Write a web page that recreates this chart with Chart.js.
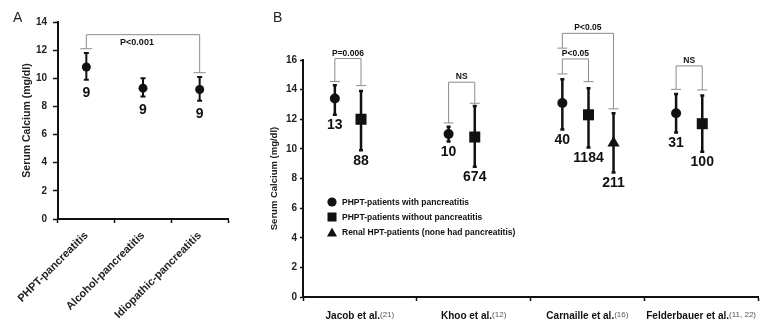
<!DOCTYPE html>
<html>
<head>
<meta charset="utf-8">
<script src="https://cdn.jsdelivr.net/npm/chart.js@4.4.0/dist/chart.umd.min.js"></script>
<style>
html,body{margin:0;padding:0;background:#fff;}
#wrap{position:relative;width:775px;height:327px;overflow:hidden;font-family:"Liberation Sans",Arial,sans-serif;}
#cA{position:absolute;left:0;top:0;}
#cB{position:absolute;left:250px;top:0;}
.panel{position:absolute;font-size:14px;line-height:1;color:#222;}
#legB{position:absolute;left:327px;top:194px;font:bold 8.5px "Liberation Sans",Arial,sans-serif;color:#111;}
#legB .row{display:flex;align-items:center;height:15px;white-space:nowrap;}
#legB svg{width:10px;height:10px;margin-right:5px;flex:none;}
</style>
</head>
<body>
<div id="wrap">
  <canvas id="cA" width="250" height="327" style="width:250px;height:327px"></canvas>
  <canvas id="cB" width="525" height="327" style="width:525px;height:327px"></canvas>
  <div class="panel" style="left:13px;top:10px;">A</div>
  <div class="panel" style="left:273px;top:10px;">B</div>
  <div id="legB"></div>
</div>
<script>
// ---------- Panel A data ----------
const catsA = ['PHPT-pancreatitis', 'Alcohol-pancreatitis', 'Idiopathic-pancreatitis'];
const meanA = [10.8, 9.3, 9.2];
const lowA  = [9.9, 8.7, 8.4];
const highA = [11.8, 10.0, 10.1];
const nA    = [9, 9, 9];
const yTicksA = [0, 2, 4, 6, 8, 10, 12, 14];
// significance bracket A (from category, to category, top, cap heights)
const brA = {from: 0, to: 2, top: 13.1, capFrom: 12.1, capTo: 10.4, label: 'P<0.001'};

// ---------- Panel B data ----------
const studiesB = ['Jacob et al.', 'Khoo et al.', 'Carnaille et al.', 'Felderbauer et al.'];
const refsB    = ['(21)', '(12)', '(16)', '(11, 22)'];
const seriesB  = ['PHPT-patients with pancreatitis', 'PHPT-patients without pancreatitis', 'Renal HPT-patients (none had pancreatitis)'];
const withMean = [13.4, 11.0, 13.1, 12.4];
const withLow  = [12.3, 10.5, 11.3, 11.1];
const withHigh = [14.3, 11.5, 14.7, 13.7];
const withN    = [13, 10, 40, 31];
const withoutMean = [12.0, 10.8, 12.3, 11.7];
const withoutLow  = [9.9, 8.8, 10.1, 9.8];
const withoutHigh = [13.9, 12.9, 14.1, 13.6];
const withoutN    = [88, 674, 1184, 100];
const renalMean = [null, null, 10.4, null];
const renalLow  = [null, null, 8.4, null];
const renalHigh = [null, null, 12.4, null];
const renalN    = [null, null, 211, null];
const yTicksB = [0, 2, 4, 6, 8, 10, 12, 14, 16];
// significance brackets B
const brStudy   = [0, 1, 2, 2, 3];
const brFromSer = [0, 0, 0, 0, 0];
const brToSer   = [1, 1, 1, 2, 1];
const brTop     = [16.1, 14.5, 16.07, 17.8, 15.6];
const brCapFrom = [14.55, 11.75, 15.06, 16.8, 14.02];
const brCapTo   = [14.27, 13.08, 14.54, 12.7, 13.98];
const brLabel   = ['P=0.006', 'NS', 'P<0.05', 'P<0.05', 'NS'];

const FONT = '"Liberation Sans", Arial, Helvetica, sans-serif';
const INK = '#111';

// ---------- plugins ----------
const errorBars = {
  id: 'errorBars',
  beforeDatasetsDraw(chart, args, opts) {
    const ctx = chart.ctx, ys = chart.scales.y;
    ctx.save();
    ctx.strokeStyle = INK;
    ctx.lineWidth = opts.lineWidth;
    chart.data.datasets.forEach((ds, di) => {
      const meta = chart.getDatasetMeta(di);
      meta.data.forEach((el, j) => {
        const d = ds.data[j];
        if (!d || d.lo == null) return;
        const y1 = ys.getPixelForValue(d.lo), y2 = ys.getPixelForValue(d.hi);
        const c = opts.capWidth / 2;
        ctx.beginPath();
        ctx.moveTo(el.x, y1); ctx.lineTo(el.x, y2);
        ctx.moveTo(el.x - c, y1); ctx.lineTo(el.x + c, y1);
        ctx.moveTo(el.x - c, y2); ctx.lineTo(el.x + c, y2);
        ctx.stroke();
      });
    });
    ctx.restore();
  },
  afterDatasetsDraw(chart, args, opts) {
    const ctx = chart.ctx, ys = chart.scales.y;
    ctx.save();
    ctx.fillStyle = INK;
    ctx.font = 'bold ' + opts.nSize + 'px ' + FONT;
    ctx.textAlign = 'center';
    ctx.textBaseline = 'middle';
    chart.data.datasets.forEach((ds, di) => {
      const meta = chart.getDatasetMeta(di);
      meta.data.forEach((el, j) => {
        const d = ds.data[j];
        if (!d || d.n == null) return;
        ctx.fillText(String(d.n), el.x, ys.getPixelForValue(d.lo) + opts.nOffset);
      });
    });
    ctx.restore();
  }
};

function bracketPlugin(list, style) {
  return {
    id: 'brackets',
    afterDraw(chart) {
      const ctx = chart.ctx, ys = chart.scales.y;
      ctx.save();
      list.forEach(b => {
        const xL = chart.getDatasetMeta(b.ds0).data[b.i0].x;
        const xR = chart.getDatasetMeta(b.ds1).data[b.i1].x;
        const yT = ys.getPixelForValue(b.top);
        const yL = ys.getPixelForValue(b.c0);
        const yR = ys.getPixelForValue(b.c1);
        const c = style.capWidth / 2;
        ctx.strokeStyle = '#8c8c8c';
        ctx.lineWidth = 1;
        ctx.beginPath();
        ctx.moveTo(xL, yL); ctx.lineTo(xL, yT); ctx.lineTo(xR, yT); ctx.lineTo(xR, yR);
        ctx.moveTo(xL - c, yL); ctx.lineTo(xL + c, yL);
        ctx.moveTo(xR - c, yR); ctx.lineTo(xR + c, yR);
        ctx.stroke();
        ctx.fillStyle = INK;
        ctx.font = 'bold ' + style.fontSize + 'px ' + FONT;
        ctx.textAlign = 'center';
        if (style.below) {
          ctx.textBaseline = 'top';
          ctx.fillText(b.label, (xL + xR) / 2 + style.dx, yT + 3);
        } else {
          ctx.textBaseline = 'bottom';
          ctx.fillText(b.label, (xL + xR) / 2 + style.dx, yT - 1);
        }
      });
      ctx.restore();
    }
  };
}

function yScale(ticksArr, max, axisW, titleSize, titlePad, tickLen, tickPad) {
  return {
    type: 'linear', min: 0, max: max,
    afterBuildTicks(s) { s.ticks = ticksArr.map(v => ({value: v})); },
    ticks: {color: '#222', font: {family: FONT, size: 10, weight: 'bold'}, padding: tickPad},
    grid: {display: true, drawOnChartArea: false, drawTicks: true, tickLength: tickLen, color: INK, tickWidth: 1.5},
    border: {display: true, color: INK, width: 2},
    title: {display: true, text: 'Serum Calcium (mg/dl)', color: '#222',
            font: {family: FONT, size: titleSize, weight: 'bold'}, padding: {top: titlePad, bottom: 0}},
    afterFit(s) { s.width = axisW; }
  };
}

// ---------- Chart A ----------
const dataA = catsA.map((c, i) => ({x: c, y: meanA[i], lo: lowA[i], hi: highA[i], n: nA[i]}));
new Chart(document.getElementById('cA'), {
  type: 'line',
  data: {
    labels: catsA,
    datasets: [{
      label: 'Serum calcium',
      data: dataA,
      showLine: false,
      pointStyle: 'circle',
      pointRadius: 4.5,
      pointBackgroundColor: INK,
      pointBorderColor: INK,
      pointBorderWidth: 0
    }]
  },
  options: {
    responsive: false, animation: false, devicePixelRatio: 1, events: [],
    layout: {padding: {top: 22, right: 22, bottom: 0, left: 0}},
    plugins: {legend: {display: false}, tooltip: {enabled: false},
              errorBars: {lineWidth: 2, capWidth: 5, nSize: 14, nOffset: 13.5}},
    scales: {
      x: {
        type: 'category', offset: true,
        ticks: {color: '#222', font: {family: FONT, size: 11, weight: 'bold'}, minRotation: 45, maxRotation: 45, padding: 6, autoSkip: false},
        grid: {display: true, offset: true, drawOnChartArea: false, drawTicks: true, tickLength: 4, color: INK, tickWidth: 1.5},
        border: {display: true, color: INK, width: 2},
        afterFit(s) { s.height = 108; }
      },
      y: yScale(yTicksA, 14, 58, 10.5, 20.7, 5, 6)
    }
  },
  plugins: [errorBars, bracketPlugin(
    [{ds0: 0, i0: brA.from, ds1: 0, i1: brA.to, top: brA.top, c0: brA.capFrom, c1: brA.capTo, label: brA.label}],
    {capWidth: 12, fontSize: 9, below: true, dx: -6})]
});

// ---------- Chart B ----------
const slotOffset = [-0.22, 0.01, 0.23];
function seriesData(mean, low, high, n, slot) {
  const out = [];
  mean.forEach((m, i) => {
    if (m == null) return;
    out.push({x: i + 0.5 + slotOffset[slot], y: m, lo: low[i], hi: high[i], n: n[i], study: i});
  });
  return out;
}
const dsB = [
  {label: seriesB[0], data: seriesData(withMean, withLow, withHigh, withN, 0), pointStyle: 'circle', pointRadius: 5},
  {label: seriesB[1], data: seriesData(withoutMean, withoutLow, withoutHigh, withoutN, 1), pointStyle: 'rect', pointRadius: 7.8},
  {label: seriesB[2], data: seriesData(renalMean, renalLow, renalHigh, renalN, 2), pointStyle: 'triangle', pointRadius: 7}
].map(d => Object.assign(d, {showLine: false, pointBackgroundColor: INK, pointBorderColor: INK, pointBorderWidth: 0}));

function idxOf(dsIndex, study) {
  return dsB[dsIndex].data.findIndex(p => p.study === study);
}
const bracketListB = brStudy.map((s, k) => ({
  ds0: brFromSer[k], i0: idxOf(brFromSer[k], s),
  ds1: brToSer[k], i1: idxOf(brToSer[k], s),
  top: brTop[k], c0: brCapFrom[k], c1: brCapTo[k], label: brLabel[k]
}));

const xLabelsB = {
  id: 'xLabelsB',
  afterDraw(chart) {
    const ctx = chart.ctx, xs = chart.scales.x;
    const y = xs.top + 19.5;
    ctx.save();
    ctx.textBaseline = 'middle';
    ctx.textAlign = 'left';
    studiesB.forEach((name, i) => {
      const cx = xs.getPixelForValue(i + 0.5);
      const fMain = 'bold 10px ' + FONT, fRef = '8px ' + FONT;
      ctx.font = fMain; const wm = ctx.measureText(name).width;
      ctx.font = fRef; const wr = ctx.measureText(refsB[i]).width;
      const x0 = cx - (wm + wr) / 2;
      ctx.font = fMain; ctx.fillStyle = '#111';
      ctx.fillText(name, x0, y);
      ctx.font = fRef; ctx.fillStyle = '#555';
      ctx.fillText(refsB[i], x0 + wm, y - 2);
    });
    ctx.restore();
  }
};

const chartB = new Chart(document.getElementById('cB'), {
  type: 'scatter',
  data: {datasets: dsB},
  options: {
    responsive: false, animation: false, devicePixelRatio: 1, events: [],
    layout: {padding: {top: 60, right: 17, bottom: 0, left: 0}},
    plugins: {legend: {display: false}, tooltip: {enabled: false},
              errorBars: {lineWidth: 2.5, capWidth: 4, nSize: 14, nOffset: 10.5}},
    scales: {
      x: {
        type: 'linear', min: 0, max: studiesB.length,
        afterBuildTicks(s) {
          const t = [];
          for (let v = 0; v <= studiesB.length; v += 0.5) t.push({value: v});
          s.ticks = t;
        },
        ticks: {display: false},
        grid: {display: true, drawOnChartArea: false, drawTicks: true, tickLength: 4, tickWidth: 1.5,
               color: INK,
               tickColor: c => (c.tick && Number.isInteger(c.tick.value)) ? INK : 'rgba(0,0,0,0)'},
        border: {display: true, color: INK, width: 2},
        afterFit(s) { s.height = 30; }
      },
      y: yScale(yTicksB, 16, 53, 9.5, 19, 3, 3)
    }
  },
  plugins: [errorBars, bracketPlugin(bracketListB, {capWidth: 10, fontSize: 8.5, below: false, dx: 0}), xLabelsB]
});

// ---------- HTML legend for B (built from the chart's datasets) ----------
const shapes = {
  circle: '<svg viewBox="0 0 10 10"><circle cx="5" cy="5" r="4.6" fill="#111"/></svg>',
  rect: '<svg viewBox="0 0 10 10"><rect x="0.5" y="0.5" width="9" height="9" fill="#111"/></svg>',
  triangle: '<svg viewBox="0 0 10 10"><polygon points="5,0.5 10,9.5 0,9.5" fill="#111"/></svg>'
};
document.getElementById('legB').innerHTML = chartB.data.datasets.map(d =>
  '<div class="row">' + shapes[d.pointStyle] + '<span>' + d.label + '</span></div>').join('');
</script>
</body>
</html>
